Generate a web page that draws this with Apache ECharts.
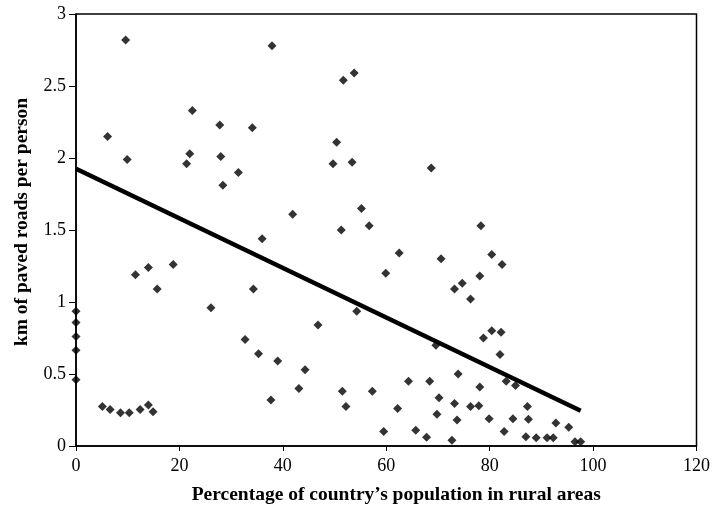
<!DOCTYPE html>
<html>
<head>
<meta charset="utf-8">
<script src="https://cdn.jsdelivr.net/npm/echarts@6/dist/echarts.min.js"></script>
<style>
html, body { margin: 0; padding: 0; background: #fff; }
#chart { width: 713px; height: 510px; }
</style>
</head>
<body>
<div id="chart"></div>
<script>
// % of population in rural areas
var ruralPct = [
  0, 0, 0, 0, 0,
  5.1, 6.6, 8.6, 10.3, 12.4, 14.0, 14.9,
  6.1, 9.6, 9.9, 11.5, 14.0, 15.7, 18.8,
  21.4, 22.0, 22.5, 26.1, 27.8, 28.0, 28.4, 31.4, 32.7, 34.1, 34.3, 35.3, 36.0,
  37.7, 37.9, 39.0, 41.9, 43.1, 44.3, 46.8,
  49.7, 50.4, 51.3, 51.5, 51.7, 52.2, 53.4, 53.8, 54.3, 55.2, 56.7, 57.3,
  59.5, 59.9, 62.2, 62.5, 64.3, 65.7, 67.8, 68.4, 68.7, 69.6, 69.8, 70.2, 70.6,
  72.7, 73.2, 73.2, 73.7, 73.9, 74.7, 76.3, 76.3, 77.9, 78.1, 78.1, 78.3, 78.8,
  79.9, 80.4, 80.4, 82.0, 82.2, 82.4, 82.8, 83.2, 84.5, 85.0,
  87.0, 87.3, 87.5, 89.0, 91.1, 92.3, 92.8, 95.3, 96.5, 97.6
];
// km of paved roads per person
var roadsKm = [
  0.935, 0.857, 0.76, 0.665, 0.46,
  0.275, 0.254, 0.231, 0.231, 0.254, 0.284, 0.238,
  2.15, 2.82, 1.99, 1.19, 1.24, 1.09, 1.26,
  1.96, 2.03, 2.33, 0.96, 2.23, 2.01, 1.81, 1.90, 0.74, 2.21, 1.09, 0.64, 1.44,
  0.32, 2.78, 0.59, 1.61, 0.40, 0.53, 0.84,
  1.96, 2.11, 1.50, 0.38, 2.54, 0.275, 1.97, 2.59, 0.935, 1.65, 1.53, 0.38,
  0.10, 1.20, 0.26, 1.34, 0.45, 0.11, 0.06, 0.45, 1.93, 0.70, 0.22, 0.335, 1.30,
  0.04, 1.09, 0.295, 0.18, 0.50, 1.13, 1.02, 0.275, 0.28, 1.18, 0.41, 1.53, 0.75,
  0.19, 1.33, 0.80, 0.635, 0.79, 1.26, 0.10, 0.45, 0.19, 0.42,
  0.065, 0.275, 0.185, 0.057, 0.057, 0.057, 0.16, 0.13, 0.03, 0.03
];
// fitted trend line end points
var trendX = [0, 97.6];
var trendY = [1.925, 0.245];

var xTicks = [0, 20, 40, 60, 80, 100, 120];
var yTicks = [0, 0.5, 1, 1.5, 2, 2.5, 3];

var font = '"Liberation Serif", "DejaVu Serif", serif';

var points = ruralPct.map(function (x, i) { return [x, roadsKm[i]]; });
var trend = trendX.map(function (x, i) { return [x, trendY[i]]; });

var chart = echarts.init(document.getElementById('chart'));
chart.setOption({
  animation: false,
  grid: {
    left: 76, right: 16, top: 14, bottom: 63,
    show: true, borderColor: '#000', borderWidth: 1.5, backgroundColor: 'transparent'
  },
  xAxis: {
    type: 'value',
    min: xTicks[0], max: xTicks[xTicks.length - 1], interval: 20,
    name: 'Percentage of country\u2019s population in rural areas',
    nameLocation: 'middle', nameGap: 39,
    nameTextStyle: { fontFamily: font, fontWeight: 'bold', fontSize: 19.5, color: '#000', padding: [0, 0, 0, 20] },
    axisLine: { lineStyle: { color: '#000', width: 1.5 } },
    axisTick: { inside: false, length: 5, lineStyle: { color: '#000' } },
    axisLabel: { fontFamily: font, fontSize: 18, color: '#000', margin: 11 },
    splitLine: { show: false }
  },
  yAxis: {
    type: 'value',
    min: yTicks[0], max: yTicks[yTicks.length - 1], interval: 0.5,
    name: 'km of paved roads per person',
    nameLocation: 'middle', nameGap: 44, nameRotate: 90,
    nameTextStyle: { fontFamily: font, fontWeight: 'bold', fontSize: 19.5, color: '#000', padding: [0, 0, 0, 16] },
    axisLine: { lineStyle: { color: '#000', width: 1.5 } },
    axisTick: { inside: false, length: 7, lineStyle: { color: '#000' } },
    axisLabel: { fontFamily: font, fontSize: 18, color: '#000', margin: 10 },
    splitLine: { show: false }
  },
  series: [
    {
      type: 'scatter',
      data: points,
      symbol: 'diamond',
      symbolSize: [9, 9],
      itemStyle: { color: '#000' }
    },
    {
      type: 'line',
      data: trend,
      symbol: 'none',
      lineStyle: { color: '#000', width: 4.5 }
    }
  ]
});
</script>
</body>
</html>
